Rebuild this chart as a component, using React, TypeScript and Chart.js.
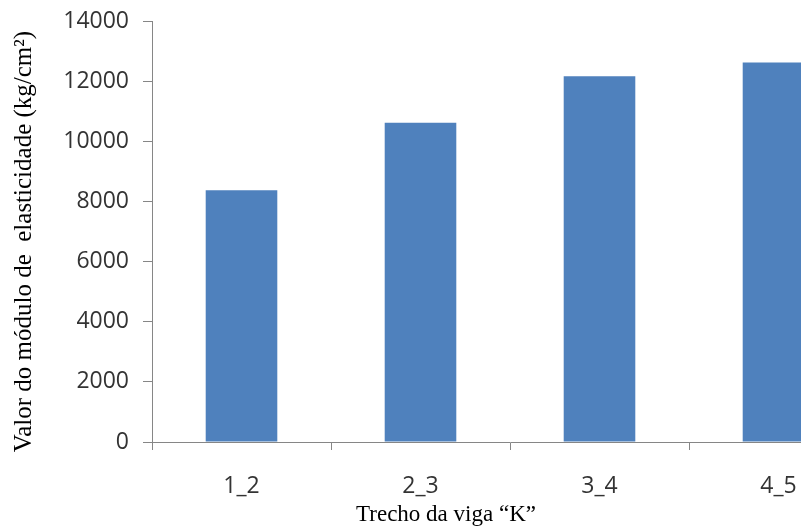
import React, { useEffect, useRef } from "react";
import { Chart, registerables } from "chart.js";

Chart.register(...registerables);

const categories = ["1_2", "2_3", "3_4", "4_5"];
const values = [8370, 10620, 12160, 12620];
const yMin = 0;
const yMax = 14000;
const yStep = 2000;
const yTitle = "Valor do módulo de  elasticidade (kg/cm²)";
const xTitle = "Trecho da viga “K”";

const axisTitles = {
  id: "axisTitles",
  afterDraw(chart: any) {
    const ctx = chart.ctx;
    const area = chart.chartArea;
    ctx.save();
    ctx.fillStyle = "#000000";
    ctx.textAlign = "center";
    ctx.textBaseline = "middle";
    ctx.font = "23px 'Liberation Serif'";
    ctx.fillText(xTitle, area.left + 294, area.bottom + 73);
    ctx.translate(area.left - 128, (area.top + area.bottom) / 2 + 10);
    ctx.rotate(-Math.PI / 2);
    ctx.font = "25px 'Liberation Serif'";
    ctx.fillText(yTitle, 0, 0);
    ctx.restore();
  },
};

export default function App() {
  const ref = useRef<HTMLCanvasElement | null>(null);

  useEffect(() => {
    if (!ref.current) return;
    const chart = new Chart(ref.current, {
      type: "bar",
      data: {
        labels: categories,
        datasets: [
          {
            data: values,
            backgroundColor: "#4F81BD",
            borderWidth: 0,
            categoryPercentage: 1,
            barPercentage: 0.4,
          },
        ],
      },
      plugins: [axisTitles],
      options: {
        animation: false,
        responsive: false,
        devicePixelRatio: 1,
        layout: { padding: { top: 21, right: 0, bottom: 0, left: 0 } },
        plugins: { legend: { display: false }, tooltip: { enabled: false } },
        scales: {
          x: {
            offset: true,
            afterFit: (s: any) => {
              s.height = 88;
            },
            grid: {
              display: true,
              drawOnChartArea: false,
              drawTicks: true,
              tickLength: 8,
              color: "#868686",
              offset: true,
            },
            border: { color: "#868686", width: 1 },
            ticks: {
              color: "#333333",
              font: { family: "Open Sans", size: 23 },
              padding: 23,
              maxRotation: 0,
            },
          },
          y: {
            min: yMin,
            max: yMax,
            afterFit: (s: any) => {
              s.width = 152;
              s.paddingTop = 0;
              s.paddingBottom = 0;
            },
            grid: {
              display: true,
              drawOnChartArea: false,
              drawTicks: true,
              tickLength: 9,
              color: "#868686",
            },
            border: { color: "#868686", width: 1 },
            ticks: {
              stepSize: yStep,
              color: "#333333",
              font: { family: "Open Sans", size: 23 },
              padding: 14,
              callback: (v: any) => String(v),
            },
          },
        },
      },
    });
    return () => chart.destroy();
  }, []);

  return (
    <div
      style={{
        position: "fixed",
        left: 0,
        top: 0,
        width: 801,
        height: 530,
        overflow: "hidden",
        background: "#ffffff",
      }}
    >
      <canvas ref={ref} width={868} height={530} style={{ display: "block" }} />
    </div>
  );
}
